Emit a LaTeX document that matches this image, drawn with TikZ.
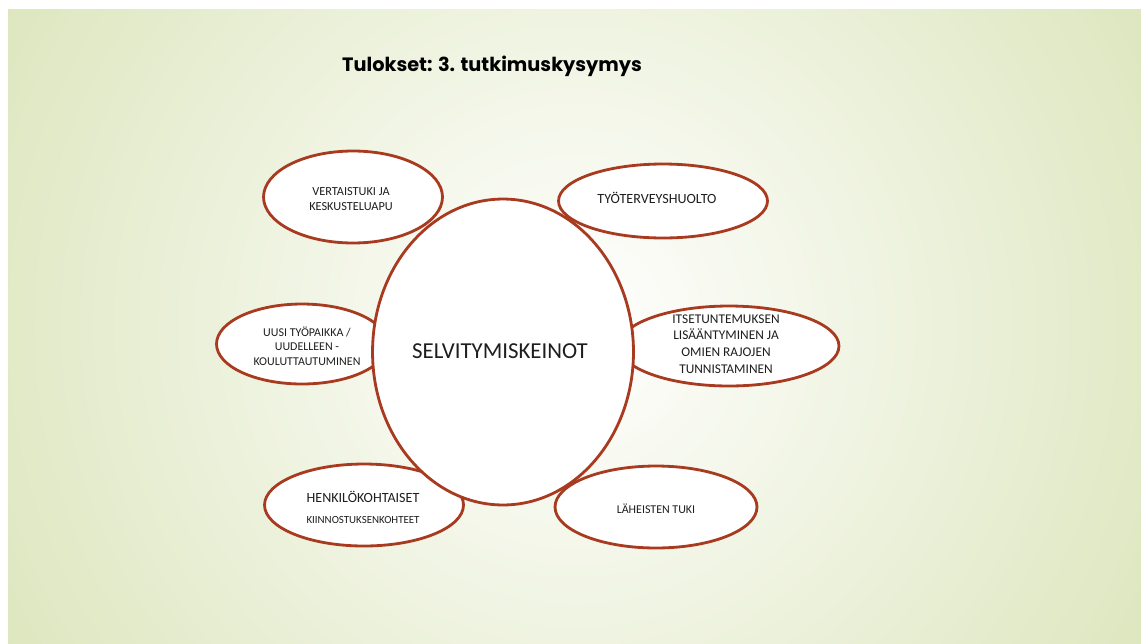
\documentclass[tikz,border=0pt]{standalone}
\usepackage{fontspec}
\setmainfont{Carlito}
\newfontfamily\titlefont{Poppins}
\usetikzlibrary{shapes.geometric}
\definecolor{rim}{RGB}{168,58,32}
\definecolor{slidegreen}{RGB}{221,230,190}
\definecolor{ink}{RGB}{30,30,30}
\tikzset{
  bubble/.style={ellipse, draw=rim, line width=1.6pt, fill=white, inner sep=0pt},
  bubbletext/.style={text=ink, align=center, inner sep=0pt}
}
\begin{document}
\begin{tikzpicture}[x=0.02cm, y=-0.02cm]
\useasboundingbox (0,0) rectangle (1141,643);
\fill[white] (0,0) rectangle (1141,643);
% slide background
\begin{scope}
\clip (8,9) rectangle (1141,643);
\fill[slidegreen] (8,9) rectangle (1141,643);
\shade[inner color=white, outer color=slidegreen] (575,326) circle (13.2cm);
\end{scope}
\node[font=\titlefont\bfseries\fontsize{11}{13}\selectfont, anchor=base] (title) at (492,71) {Tulokset: 3. tutkimuskysymys};
% outer bubbles
\foreach \n/\x/\y/\w/\h in {verta/353/197/3.58/1.84, tyo/663/201/4.18/1.48, uusi/302/344/3.42/1.60, itse/729/346/4.4/1.60, henk/364/505/3.98/1.64, lah/656/507/4.04/1.64}
{
	\node[bubble, minimum width=\w cm, minimum height=\h cm] (\n) at (\x,\y) {};
}
\node[bubble, minimum width=5.22cm, minimum height=6.12cm] (keinot) at (503,352) {};
% texts
\node[bubbletext, font=\fontsize{13}{15}\selectfont] (keinottxt) at (500,351) {SELVITYMISKEINOT};
\node[bubbletext, font=\fontsize{7}{8.6}\selectfont] (vertatxt) at (351,199) {VERTAISTUKI JA\\KESKUSTELUAPU};
\node[bubbletext, font=\fontsize{8}{10}\selectfont] (tyotxt) at (657,198) {TYÖTERVEYSHUOLTO};
\node[bubbletext, font=\fontsize{6.8}{8.2}\selectfont] (uusitxt) at (307,346) {UUSI TYÖPAIKKA /\\UUDELLEEN -\\KOULUTTAUTUMINEN};
\node[bubbletext, font=\fontsize{7.6}{9.5}\selectfont] (itsetxt) at (726,344) {ITSETUNTEMUKSEN\\LISÄÄNTYMINEN JA\\OMIEN RAJOJEN\\TUNNISTAMINEN};
\node[bubbletext] (henktxt) at (363,507) {{\fontsize{8}{8.5}\selectfont HENKILÖKOHTAISET}\\{\fontsize{6.2}{8}\selectfont KIINNOSTUKSENKOHTEET}};
\node[bubbletext, font=\fontsize{6.8}{8}\selectfont] (lahtxt) at (656,509) {LÄHEISTEN TUKI};
\end{tikzpicture}
\end{document}
